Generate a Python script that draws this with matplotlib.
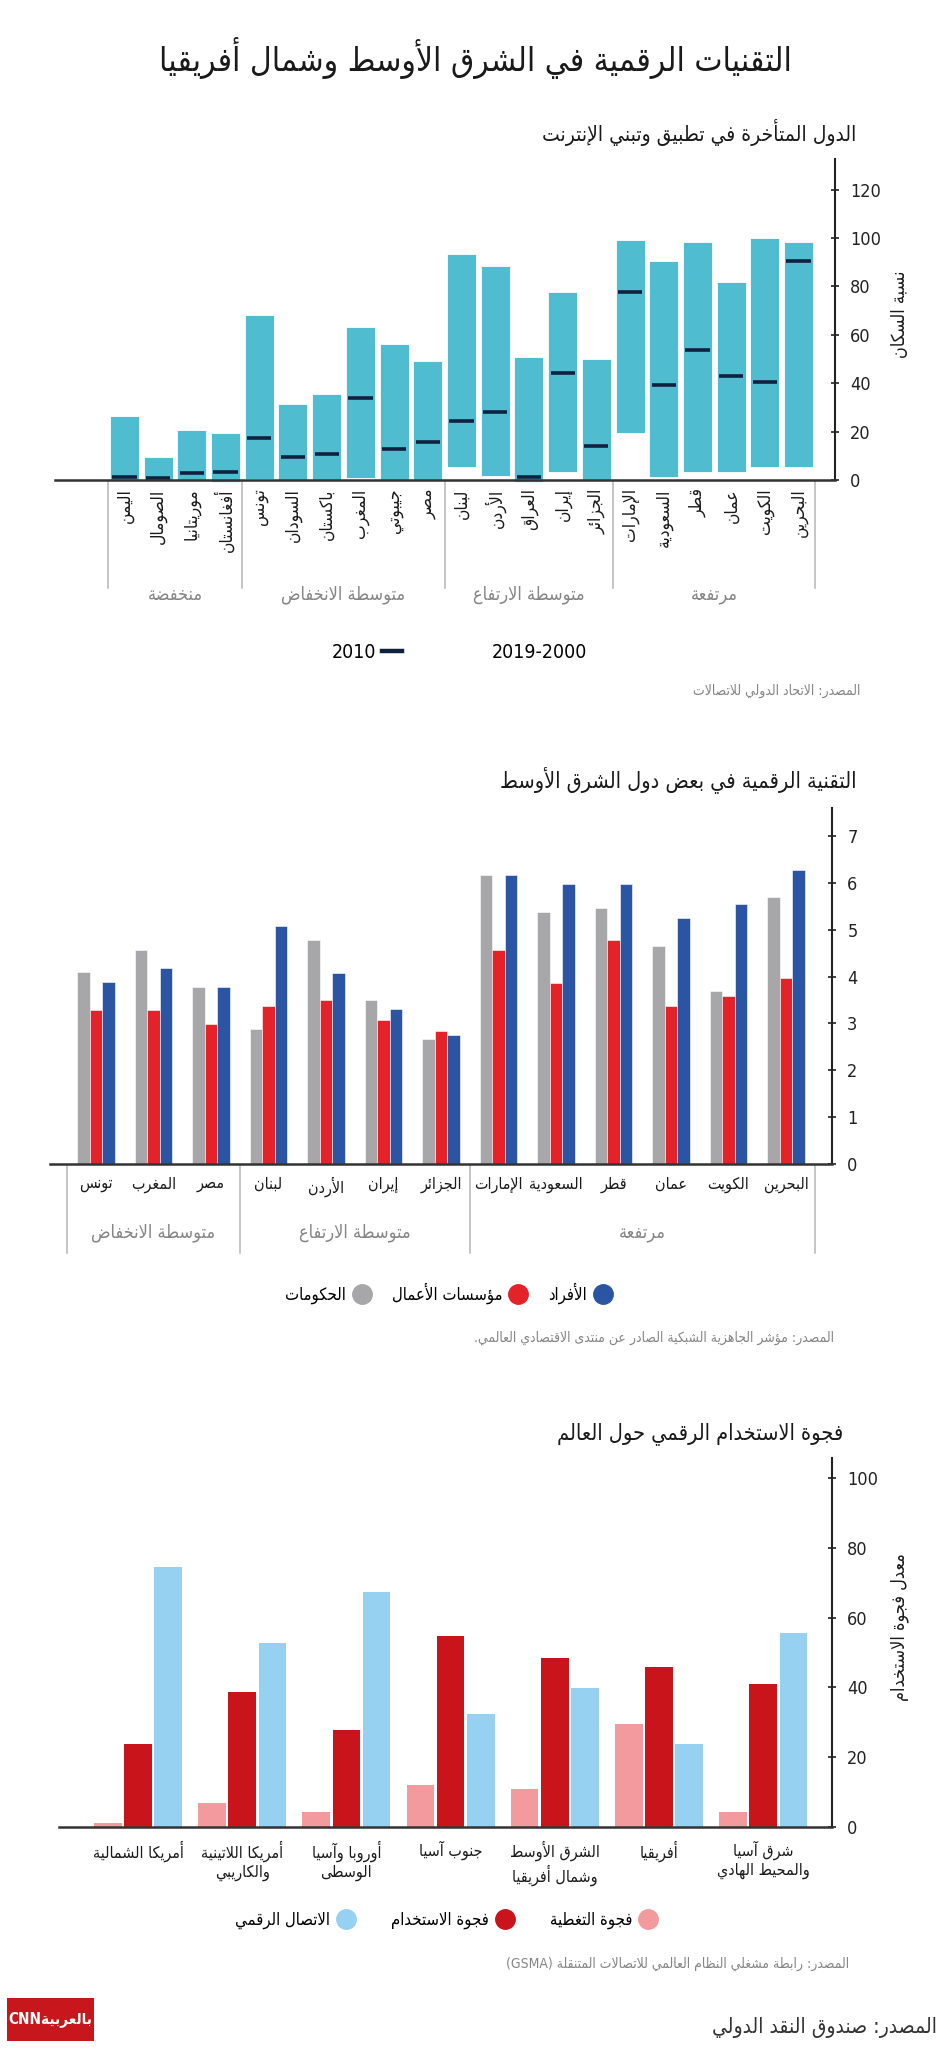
import re
import numpy as np
import matplotlib
matplotlib.use('Agg')
import matplotlib.pyplot as plt
from matplotlib import font_manager as fm
from matplotlib import transforms
from matplotlib.ft2font import FT2Font
from matplotlib.lines import Line2D
from matplotlib.patches import Patch, Rectangle

# ------------------------------------------------------------------ data
title_main = 'التقنيات الرقمية في الشرق الأوسط وشمال أفريقيا'

c1_title = 'الدول المتأخرة في تطبيق وتبني الإنترنت'
c1_countries = ['اليمن', 'الصومال', 'موريتانيا', 'أفغانستان',
                'تونس', 'السودان', 'باكستان', 'المغرب', 'جيبوتي', 'مصر',
                'لبنان', 'الأردن', 'العراق', 'إيران', 'الجزائر',
                'الإمارات', 'السعودية', 'قطر', 'عمان', 'الكويت', 'البحرين']
c1_low = [0, 0, 0, -1, 0.4, 0.2, 0.2, 0.7, 0.2, 0.2,
          5.2, 1.8, -0.7, 3.4, -0.5,
          19.3, 1.4, 3.4, 3.4, 5.2, 5.2]
c1_high = [26.4, 9.4, 20.7, 19.3, 68.2, 31.3, 35.7, 63.1, 56.3, 49.0,
           93.5, 88.3, 50.7, 77.7, 49.9,
           99.3, 90.5, 98.2, 81.9, 100.1, 98.2]
c1_2010 = [1.4, 1.0, 3.0, 3.4, 17.2, 9.4, 10.7, 33.9, 12.7, 15.8,
           24.4, 28.2, 1.4, 44.3, 14.2,
           77.8, 39.1, 53.6, 43.0, 40.6, 90.6]
c1_groups = ['منخفضة', 'متوسطة الانخفاض', 'متوسطة الارتفاع', 'مرتفعة']
c1_group_sizes = [4, 6, 5, 6]
c1_yticks = [0, 20, 40, 60, 80, 100, 120]
c1_ylabel = 'نسبة السكان'
c1_legend = ['2010', '2019-2000']
c1_source = 'المصدر: الاتحاد الدولي للاتصالات'

c2_title = 'التقنية الرقمية في بعض دول الشرق الأوسط'
c2_countries = ['تونس', 'المغرب', 'مصر', 'لبنان', 'الأردن', 'إيران', 'الجزائر',
                'الإمارات', 'السعودية', 'قطر', 'عمان', 'الكويت', 'البحرين']
c2_gov = [4.10, 4.57, 3.78, 2.88, 4.78, 3.50, 2.67, 6.18, 5.37, 5.46, 4.66, 3.69, 5.71]
c2_bus = [3.28, 3.28, 2.98, 3.38, 3.50, 3.07, 2.84, 4.57, 3.86, 4.78, 3.38, 3.58, 3.97]
c2_ind = [3.88, 4.18, 3.78, 5.08, 4.07, 3.31, 2.75, 6.16, 5.98, 5.98, 5.26, 5.56, 6.27]
c2_groups = ['متوسطة الانخفاض', 'متوسطة الارتفاع', 'مرتفعة']
c2_group_sizes = [3, 4, 6]
c2_yticks = [0, 1, 2, 3, 4, 5, 6, 7]
c2_series = ['الحكومات', 'مؤسسات الأعمال', 'الأفراد']
c2_source = 'المصدر: مؤشر الجاهزية الشبكية الصادر عن منتدى الاقتصادي العالمي.'

c3_title = 'فجوة الاستخدام الرقمي حول العالم'
c3_regions = ['أمريكا الشمالية', 'أمريكا اللاتينية\nوالكاريبي', 'أوروبا وآسيا\nالوسطى',
              'جنوب آسيا', 'الشرق الأوسط\nوشمال أفريقيا', 'أفريقيا',
              'شرق آسيا\nوالمحيط الهادي']
c3_coverage = [1.2, 7.0, 4.2, 12.0, 10.8, 29.6, 4.2]
c3_usage = [23.9, 38.6, 27.9, 54.6, 48.5, 45.8, 40.9]
c3_connect = [74.5, 52.6, 67.3, 32.5, 39.7, 23.9, 55.7]
c3_yticks = [0, 20, 40, 60, 80, 100]
c3_ylabel = 'معدل فجوة الاستخدام'
c3_series = ['فجوة التغطية', 'فجوة الاستخدام', 'الاتصال الرقمي']
c3_source = 'المصدر: رابطة مشغلي النظام العالمي للاتصالات المتنقلة (GSMA)'

footer_source = 'المصدر: صندوق النقد الدولي'
logo_text = 'بالعربية'

# ------------------------------------------------------------------ colours
TEAL = '#4fbdcf'
NAVY = '#0e2240'
GRAY = '#a7a7a9'
RED = '#e42229'
BLUE = '#2b55a3'
PINK = '#f29a9d'
DRED = '#c9141b'
LBLUE = '#96d1f1'
INK = '#1a1a1a'
MUTED = '#858585'
SEP = '#b5b5b5'

# ------------------------------------------------------------------ arabic shaping
_TABLE = [('\u0621', 0xFE80, 1), ('\u0622', 0xFE81, 2), ('\u0623', 0xFE83, 2),
          ('\u0624', 0xFE85, 2), ('\u0625', 0xFE87, 2), ('\u0626', 0xFE89, 4),
          ('\u0627', 0xFE8D, 2), ('\u0628', 0xFE8F, 4), ('\u0629', 0xFE93, 2),
          ('\u062A', 0xFE95, 4), ('\u062B', 0xFE99, 4), ('\u062C', 0xFE9D, 4),
          ('\u062D', 0xFEA1, 4), ('\u062E', 0xFEA5, 4), ('\u062F', 0xFEA9, 2),
          ('\u0630', 0xFEAB, 2), ('\u0631', 0xFEAD, 2), ('\u0632', 0xFEAF, 2),
          ('\u0633', 0xFEB1, 4), ('\u0634', 0xFEB5, 4), ('\u0635', 0xFEB9, 4),
          ('\u0636', 0xFEBD, 4), ('\u0637', 0xFEC1, 4), ('\u0638', 0xFEC5, 4),
          ('\u0639', 0xFEC9, 4), ('\u063A', 0xFECD, 4), ('\u0641', 0xFED1, 4),
          ('\u0642', 0xFED5, 4), ('\u0643', 0xFED9, 4), ('\u0644', 0xFEDD, 4),
          ('\u0645', 0xFEE1, 4), ('\u0646', 0xFEE5, 4), ('\u0647', 0xFEE9, 4),
          ('\u0648', 0xFEED, 2), ('\u0649', 0xFEEF, 2), ('\u064A', 0xFEF1, 4)]
_JOIN = {c: (b, n) for c, b, n in _TABLE}
_LAMALEF = {'\u0622': 0xFEF5, '\u0623': 0xFEF7, '\u0625': 0xFEF9, '\u0627': 0xFEFB}
_MIRROR = {'(': ')', ')': '(', '[': ']', ']': '['}


def _shape(s):
    toks = []
    i = 0
    while i < len(s):
        c = s[i]
        if c == '\u0644' and i + 1 < len(s) and s[i + 1] in _LAMALEF:
            toks.append(('LA', s[i + 1]))
            i += 2
            continue
        toks.append(('C', c))
        i += 1

    def kind(t):
        if t is None:
            return 0
        if t[0] == 'LA':
            return 2
        return _JOIN[t[1]][1] if t[1] in _JOIN else 0

    out = []
    for k, t in enumerate(toks):
        ck = kind(t)
        if ck == 0:
            out.append(t[1])
            continue
        pk = kind(toks[k - 1]) if k > 0 else 0
        nk = kind(toks[k + 1]) if k + 1 < len(toks) else 0
        jp = pk == 4 and ck >= 2
        jn = ck == 4 and nk >= 2
        if t[0] == 'LA':
            out.append(chr(_LAMALEF[t[1]] + (1 if jp else 0)))
            continue
        base = _JOIN[t[1]][0]
        f = 3 if (jp and jn) else 1 if jp else 2 if jn else 0
        out.append(chr(base + f))
    return ''.join(out)


def ar(s):
    res = []
    for line in s.split('\n'):
        sh = _shape(line)
        runs = re.split(r'([A-Za-z0-9]+(?:[\-\.,/][A-Za-z0-9]+)*)', sh)
        vis = []
        for j, r in enumerate(runs):
            if j % 2 == 1:
                vis.append(r)
            else:
                vis.append(''.join(_MIRROR.get(ch, ch) for ch in reversed(r)))
        res.append(''.join(reversed(vis)))
    return '\n'.join(res)


# ------------------------------------------------------------------ fonts
def _cmap(path):
    try:
        return FT2Font(path).get_charmap()
    except Exception:
        return {}


def _wt(f):
    w = f.weight
    if isinstance(w, str):
        return {'normal': 400, 'regular': 400, 'book': 400, 'bold': 700}.get(w, 400)
    return w


def _pick(sample, pref_names, want_condensed=True, weight=400):
    best, best_score = None, 1e9
    for f in fm.fontManager.ttflist:
        if f.style != 'normal':
            continue
        if pref_names and f.name not in pref_names:
            continue
        cm = _cmap(f.fname)
        if not all(ord(c) in cm for c in sample):
            continue
        score = abs(_wt(f) - weight) / 100.0
        cond = ('condensed' in str(f.stretch)) or ('Narrow' in f.name)
        if want_condensed and not cond:
            score += 3
        if not want_condensed and cond:
            score += 3
        score += pref_names.index(f.name) * 0.5 if pref_names else 0
        if score < best_score:
            best, best_score = f.fname, score
    return best


AR_SAMPLE = '\uFEDF\uFEE0\uFEFB\uFE8E\uFEF3\uFE94'
AR_PATH = _pick(AR_SAMPLE, ['DejaVu Sans'], True) or fm.findfont('DejaVu Sans')
AR_BOLD = _pick(AR_SAMPLE, ['DejaVu Sans'], True, 700) or AR_PATH
NUM_PATH = (_pick('0123456789', ['Liberation Sans Narrow', 'DejaVu Sans', 'Roboto'], True)
            or fm.findfont('DejaVu Sans'))


def fa(size, bold=False):
    return fm.FontProperties(fname=AR_BOLD if bold else AR_PATH, size=size)


def fn(size):
    return fm.FontProperties(fname=NUM_PATH, size=size)


# ------------------------------------------------------------------ figure
W, H = 950, 2048
fig = plt.figure(figsize=(W / 100, H / 100), dpi=100, facecolor='white')


def X(px):
    return px / W


def Y(py):
    return 1 - py / H


def axes_px(left, top, right, bottom):
    return fig.add_axes([X(left), Y(bottom), (right - left) / W, (bottom - top) / H])


def style_axes(ax, yticks):
    for s in ('top', 'left'):
        ax.spines[s].set_visible(False)
    ax.spines['right'].set_linewidth(1.5)
    ax.spines['right'].set_color('#222222')
    ax.spines['bottom'].set_linewidth(1.8)
    ax.spines['bottom'].set_color('#333333')
    ax.spines['bottom'].set_zorder(6)
    ax.yaxis.tick_right()
    ax.set_yticks(yticks)
    ax.set_yticklabels([str(v) for v in yticks])
    ax.tick_params(axis='y', direction='inout', length=6, width=1.2, pad=8, colors='#222222')
    for lb in ax.get_yticklabels():
        lb.set_fontproperties(fn(13))
    ax.tick_params(axis='x', length=0)
    ax.patch.set_alpha(0)


def group_deco(ax, sizes, names, y_top, y_bot, y_lab, size):
    tr = transforms.blended_transform_factory(ax.transData, fig.transFigure)
    edges = np.concatenate([[0], np.cumsum(sizes)]) - 0.5
    for e in edges:
        ax.plot([e, e], [Y(y_top), Y(y_bot)], transform=tr, color=SEP, lw=1.1,
                clip_on=False, zorder=1)
    for k, g in enumerate(names):
        c = (edges[k] + edges[k + 1]) / 2
        ax.text(c, Y(y_lab), ar(g), transform=tr, ha='center', va='center',
                color=MUTED, fontproperties=fa(size))


# ------------------------------------------------------------------ main title
fig.text(X(475), Y(58), ar(title_main), ha='center', va='center', color=INK,
         fontproperties=fa(24))

# ------------------------------------------------------------------ chart 1
fig.text(X(856), Y(132), ar(c1_title), ha='right', va='center', color=INK,
         fontproperties=fa(15))
ax1 = axes_px(55, 159, 835, 480)
x1 = np.arange(len(c1_countries))
lo = np.array(c1_low)
hi = np.array(c1_high)
ax1.bar(x1, hi - lo, bottom=lo, width=0.86, color=TEAL, edgecolor='white',
        linewidth=0.6, clip_on=False, zorder=2)
ax1.hlines(c1_2010, x1 - 0.36, x1 + 0.36, color=NAVY, linewidth=2.6, zorder=3)
ax1.set_xlim(-2.06, 21.08)
ax1.set_ylim(0, 132.6)
style_axes(ax1, c1_yticks)
ax1.set_xticks(x1)
ax1.set_xticklabels([ar(c) for c in c1_countries], rotation=90, ha='center', va='top')
for lb in ax1.get_xticklabels():
    lb.set_fontproperties(fa(12.5))
ax1.tick_params(axis='x', pad=6, colors=INK)
group_deco(ax1, c1_group_sizes, c1_groups, 481, 588, 595, 13)
fig.text(X(900), Y(314), ar(c1_ylabel), rotation=90, ha='center', va='center',
         color=INK, fontproperties=fa(13))
h1 = [Line2D([0], [0], color=NAVY, lw=3.2),
      Patch(facecolor='none', edgecolor='none')]
fig.legend(h1, c1_legend, loc='center', bbox_to_anchor=(X(472), Y(652)),
           bbox_transform=fig.transFigure, ncol=2, frameon=False, markerfirst=False,
           handlelength=1.0, handletextpad=0.3, columnspacing=4.6, prop=fn(14))
fig.text(X(860), Y(691), ar(c1_source), ha='right', va='center', color=MUTED,
         fontproperties=fa(10))

# ------------------------------------------------------------------ chart 2
fig.text(X(856), Y(780), ar(c2_title), ha='right', va='center', color=INK,
         fontproperties=fa(15.5))
ax2 = axes_px(50, 808, 832, 1164)
x2 = np.arange(len(c2_countries))
bw2 = 0.22
ax2.bar(x2 - bw2, c2_gov, width=bw2, color=GRAY, edgecolor='white', linewidth=0.4, zorder=2)
ax2.bar(x2, c2_bus, width=bw2, color=RED, edgecolor='white', linewidth=0.4, zorder=2)
ax2.bar(x2 + bw2, c2_ind, width=bw2, color=BLUE, edgecolor='white', linewidth=0.4, zorder=2)
ax2.set_xlim(-0.8, 12.8)
ax2.set_ylim(0, 7.6)
style_axes(ax2, c2_yticks)
ax2.set_xticks(x2)
ax2.set_xticklabels([ar(c) for c in c2_countries], ha='center', va='top')
for lb in ax2.get_xticklabels():
    lb.set_fontproperties(fa(11.5))
ax2.tick_params(axis='x', pad=9, colors=INK)
group_deco(ax2, c2_group_sizes, c2_groups, 1165, 1253, 1233, 13)
h2 = [Line2D([0], [0], marker='o', ls='none', ms=14, mfc=c, mec=c) for c in (GRAY, RED, BLUE)]
fig.legend(h2, [ar(s) for s in c2_series], loc='center', bbox_to_anchor=(X(448), Y(1293)),
           bbox_transform=fig.transFigure, ncol=3, frameon=False, markerfirst=False,
           handlelength=1.0, handletextpad=0.45, columnspacing=1.3, prop=fa(12))
fig.text(X(834), Y(1338), ar(c2_source), ha='right', va='center', color=MUTED,
         fontproperties=fa(10))

# ------------------------------------------------------------------ chart 3
fig.text(X(843), Y(1434), ar(c3_title), ha='right', va='center', color=INK,
         fontproperties=fa(15.5))
ax3 = axes_px(59, 1458, 832, 1827)
x3 = np.arange(len(c3_regions))
off3, bw3 = 0.29, 0.265
ax3.bar(x3 - off3, c3_coverage, width=bw3, color=PINK, zorder=2)
ax3.bar(x3, c3_usage, width=bw3, color=DRED, zorder=2)
ax3.bar(x3 + off3, c3_connect, width=bw3, color=LBLUE, zorder=2)
ax3.set_xlim(-0.758, 6.66)
ax3.set_ylim(0, 105.7)
style_axes(ax3, c3_yticks)
ax3.set_xticks(x3)
ax3.set_xticklabels([ar(c) for c in c3_regions], ha='center', va='top', linespacing=1.2)
for lb in ax3.get_xticklabels():
    lb.set_fontproperties(fa(11.5))
ax3.tick_params(axis='x', pad=10, colors=INK)
fig.text(X(900), Y(1627), ar(c3_ylabel), rotation=90, ha='center', va='center',
         color=INK, fontproperties=fa(13))
h3 = [Line2D([0], [0], marker='o', ls='none', ms=14, mfc=c, mec=c) for c in (LBLUE, DRED, PINK)]
fig.legend(h3, [ar(s) for s in c3_series[::-1]], loc='center', bbox_to_anchor=(X(446), Y(1920)),
           bbox_transform=fig.transFigure, ncol=3, frameon=False, markerfirst=False,
           handlelength=1.0, handletextpad=0.45, columnspacing=2.2, prop=fa(12))
fig.text(X(849), Y(1964), ar(c3_source), ha='right', va='center', color=MUTED,
         fontproperties=fa(10))

# ------------------------------------------------------------------ footer
fig.add_artist(Rectangle((X(7), Y(2041)), X(87), (2041 - 1998) / H,
                         transform=fig.transFigure, facecolor='#c8161d', edgecolor='none'))
fig.text(X(50), Y(2019), 'CNN' + ar(logo_text), ha='center', va='center', color='white',
         fontproperties=fa(11, bold=True))
fig.text(X(937), Y(2028), ar(footer_source), ha='right', va='center', color='#333333',
         fontproperties=fa(15))

fig.savefig('out.png', dpi=100, facecolor='white')
